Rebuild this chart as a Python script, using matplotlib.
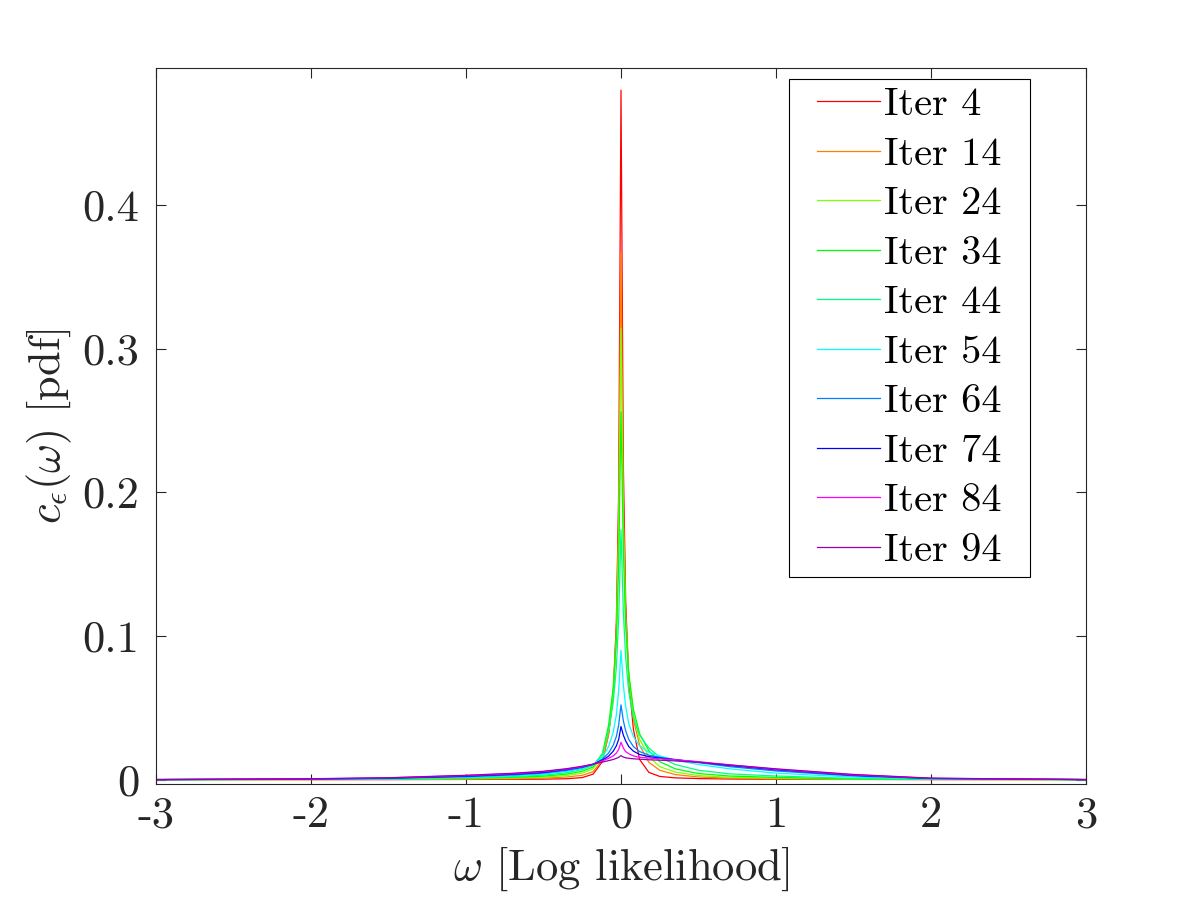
import matplotlib
matplotlib.use('Agg')
from matplotlib import pyplot as plt
from matplotlib.path import Path

plt.rcParams['font.family'] = ['cmr10', 'DejaVu Serif']
plt.rcParams['mathtext.fontset'] = 'cm'
plt.rcParams['axes.unicode_minus'] = False
plt.rcParams['axes.formatter.use_mathtext'] = True

# omega grid
omega = [-3, -2, -1.5, -1, -0.7, -0.5, -0.35, -0.25, -0.18, -0.12, -0.08, -0.05, -0.03, -0.015, 0,
         0.015, 0.03, 0.05, 0.08, 0.12, 0.18, 0.25, 0.35, 0.5, 0.7, 1, 1.5, 2, 3]

iter_04 = [0, 0, 0, 0.0001, 0.0002, 0.0003, 0.0006, 0.0014, 0.0038, 0.0125, 0.032, 0.06, 0.11, 0.2, 0.48,
           0.22, 0.125, 0.07, 0.035, 0.014, 0.005, 0.0022, 0.0012, 0.0007, 0.0004, 0.0002, 0.0001, 0, 0]
iter_14 = [0, 0, 0.0001, 0.0003, 0.0006, 0.001, 0.0018, 0.003, 0.0055, 0.0135, 0.031, 0.058, 0.1, 0.18, 0.367,
           0.19, 0.115, 0.072, 0.042, 0.024, 0.012, 0.0065, 0.0035, 0.0018, 0.001, 0.0005, 0.0002, 0.0001, 0]
iter_24 = [0, 0.0001, 0.0002, 0.0006, 0.0011, 0.0017, 0.0028, 0.0045, 0.0075, 0.016, 0.034, 0.062, 0.1, 0.17, 0.314,
           0.18, 0.112, 0.072, 0.045, 0.028, 0.016, 0.009, 0.0052, 0.0028, 0.0016, 0.0009, 0.0003, 0.0001, 0]
iter_34 = [0, 0.0001, 0.0003, 0.0009, 0.0016, 0.0024, 0.0038, 0.0058, 0.0088, 0.018, 0.038, 0.064, 0.098, 0.15, 0.256,
           0.16, 0.108, 0.074, 0.049, 0.032, 0.02, 0.0125, 0.0075, 0.0042, 0.0025, 0.0015, 0.0005, 0.0002, 0]
iter_44 = [0, 0.0002, 0.0004, 0.0012, 0.0021, 0.0031, 0.0048, 0.007, 0.0098, 0.018, 0.034, 0.054, 0.078, 0.112, 0.174,
           0.117, 0.085, 0.061, 0.043, 0.031, 0.022, 0.0155, 0.0105, 0.0065, 0.004, 0.0025, 0.0008, 0.0003, 0]
iter_54 = [0, 0.0002, 0.0006, 0.0016, 0.0027, 0.0038, 0.0056, 0.0077, 0.0103, 0.0155, 0.023, 0.033, 0.045, 0.062, 0.09,
           0.066, 0.051, 0.039, 0.03, 0.0235, 0.019, 0.0165, 0.0135, 0.0105, 0.0075, 0.0045, 0.0017, 0.0005, 0]
iter_64 = [0, 0.0003, 0.0008, 0.002, 0.0032, 0.0045, 0.0064, 0.0083, 0.0105, 0.0142, 0.0185, 0.024, 0.03, 0.038, 0.052,
           0.041, 0.034, 0.028, 0.023, 0.0195, 0.017, 0.0155, 0.014, 0.0118, 0.009, 0.006, 0.0025, 0.0007, 0]
iter_74 = [0, 0.0004, 0.001, 0.0024, 0.0037, 0.005, 0.007, 0.0088, 0.0107, 0.0135, 0.0163, 0.0198, 0.0235, 0.028, 0.037,
           0.031, 0.027, 0.023, 0.0198, 0.0175, 0.016, 0.015, 0.0138, 0.0122, 0.0098, 0.0068, 0.003, 0.0008, 0]
iter_84 = [0, 0.0005, 0.0012, 0.0028, 0.0041, 0.0055, 0.0073, 0.009, 0.0107, 0.013, 0.0148, 0.0165, 0.0185, 0.021, 0.026,
           0.022, 0.0195, 0.018, 0.0165, 0.0155, 0.015, 0.0145, 0.0138, 0.0125, 0.0103, 0.0072, 0.0033, 0.0009, 0]
iter_94 = [0, 0.0006, 0.0013, 0.003, 0.0044, 0.0058, 0.0076, 0.0093, 0.0107, 0.0122, 0.0132, 0.014, 0.0148, 0.0155, 0.0167,
           0.0157, 0.0152, 0.0148, 0.0145, 0.0142, 0.0138, 0.0135, 0.013, 0.012, 0.0102, 0.0075, 0.0036, 0.001, 0]

series = [iter_04, iter_14, iter_24, iter_34, iter_44, iter_54, iter_64, iter_74, iter_84, iter_94]
labels = ['Iter 4', 'Iter 14', 'Iter 24', 'Iter 34', 'Iter 44',
          'Iter 54', 'Iter 64', 'Iter 74', 'Iter 84', 'Iter 94']
colors = ['#FF0000', '#FF8000', '#80FF00', '#00FF00', '#00FF80',
          '#00FFFF', '#0080FF', '#0000FF', '#FF00FF', '#9900AA']

xticks = [-3, -2, -1, 0, 1, 2, 3]
xticklabels = ['-3', '-2', '-1', '0', '1', '2', '3']
yticks = [0, 0.1, 0.2, 0.3, 0.4]
yticklabels = ['0', '0.1', '0.2', '0.3', '0.4']

fig = plt.figure(figsize=(12, 9), dpi=100)
ax = fig.add_axes([0.13, 0.129, 0.775, 0.7955])

for ys, lab, col in zip(series, labels, colors):
    ax.plot(omega, ys, color=col, linewidth=0.9, label=lab)

ax.set_xlim(-3, 3)
ax.set_ylim(-0.003, 0.4955)
ax.set_xticks(xticks)
ax.set_xticklabels(xticklabels)
ax.set_yticks(yticks)
ax.set_yticklabels(yticklabels)

gray = '#262626'
ax.tick_params(direction='in', length=7, width=0.8, top=True, right=True,
               labelsize=32, colors=gray)
ax.tick_params(axis='x', pad=9)
ax.tick_params(axis='y', pad=12)
for sp in ax.spines.values():
    sp.set_color(gray)
    sp.set_linewidth(0.8)

ax.set_xlabel(r'$\omega$ [Log likelihood]', fontsize=32, color=gray, labelpad=6)
ax.set_ylabel(r'$c_\epsilon(\omega)$ [pdf]', fontsize=32, color=gray, labelpad=6)

# matlab-like legend box: wider on the sides than on top/bottom
extra_x = 20


def wide_box(x0, y0, width, height, mutation_size):
    x0 -= extra_x
    x1 = x0 + width + 2 * extra_x
    y1 = y0 + height
    return Path([(x0, y0), (x1, y0), (x1, y1), (x0, y1), (x0, y0)], closed=True)


leg = ax.legend(loc='upper right', bbox_to_anchor=((1010 - 156) / 930, 0.9846), borderaxespad=0,
                fontsize=29, fancybox=False, edgecolor='black', framealpha=1,
                handlelength=1.55, handletextpad=0.12, labelspacing=0.33,
                borderpad=0.2)
leg.get_frame().set_boxstyle(wide_box)
leg.get_frame().set_linewidth(0.8)

fig.savefig('out.png', dpi=100)
